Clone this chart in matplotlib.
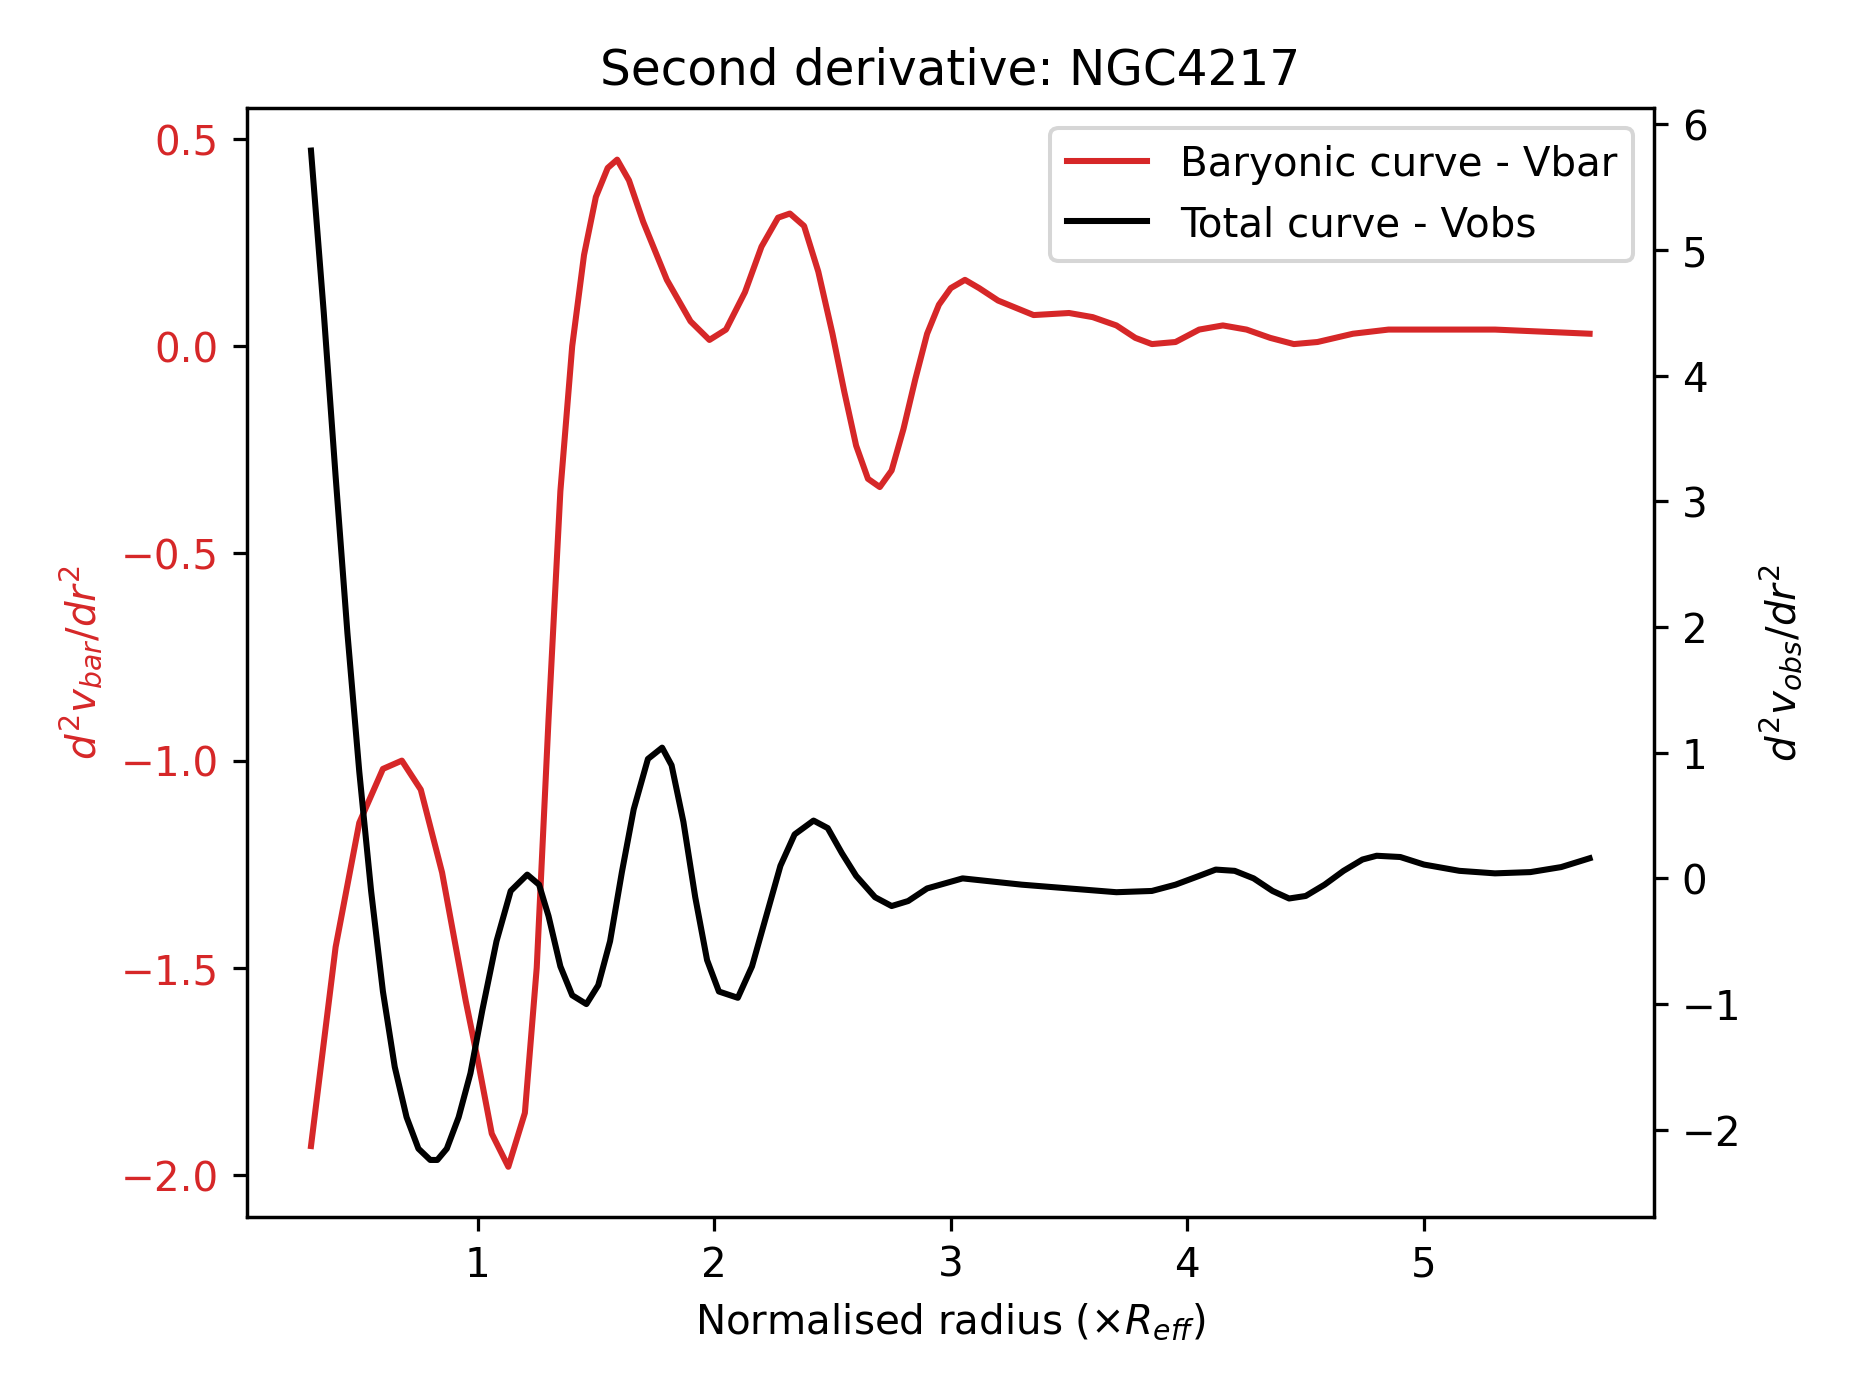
import numpy as np
import matplotlib.pyplot as plt

# values
r_bar = [0.296, 0.4, 0.5, 0.6, 0.68, 0.76, 0.85, 0.95, 1.0, 1.06, 1.13, 1.2, 1.25, 1.3, 1.35, 1.4, 1.45, 1.5, 1.55, 1.59,
         1.64, 1.7, 1.8, 1.9, 1.98, 2.05, 2.13, 2.2, 2.27, 2.32, 2.38, 2.44, 2.5, 2.55, 2.6, 2.65, 2.7, 2.75, 2.8, 2.85,
         2.9, 2.95, 3.0, 3.06, 3.12, 3.2, 3.35, 3.5, 3.6, 3.7, 3.78, 3.85, 3.95, 4.05, 4.15, 4.25, 4.35, 4.45, 4.55,
         4.7, 4.85, 5.0, 5.3, 5.7]
d2_bar = [-1.93, -1.45, -1.15, -1.02, -1.0, -1.07, -1.27, -1.58, -1.72, -1.9, -1.98, -1.85, -1.5, -0.9, -0.35, 0.0,
          0.22, 0.36, 0.43, 0.45, 0.4, 0.3, 0.16, 0.06, 0.015, 0.04, 0.13, 0.24, 0.31, 0.32, 0.29, 0.18, 0.03, -0.11,
          -0.24, -0.32, -0.34, -0.3, -0.2, -0.08, 0.03, 0.1, 0.14, 0.16, 0.14, 0.11, 0.075, 0.08, 0.07, 0.05, 0.02,
          0.005, 0.01, 0.04, 0.05, 0.04, 0.02, 0.005, 0.01, 0.03, 0.04, 0.04, 0.04, 0.03]

r_obs = [0.296, 0.35, 0.4, 0.45, 0.5, 0.55, 0.6, 0.65, 0.7, 0.75, 0.8, 0.83, 0.87, 0.92, 0.97, 1.02, 1.08, 1.14, 1.21,
         1.26, 1.3, 1.35, 1.4, 1.46, 1.51, 1.56, 1.61, 1.66, 1.72, 1.78, 1.82, 1.87, 1.92, 1.97, 2.02, 2.1, 2.16, 2.22,
         2.28, 2.34, 2.42, 2.48, 2.54, 2.6, 2.68, 2.75, 2.82, 2.9, 3.05, 3.3, 3.7, 3.85, 3.95, 4.05, 4.12, 4.2, 4.28,
         4.36, 4.43, 4.5, 4.58, 4.66, 4.74, 4.8, 4.9, 5.0, 5.15, 5.3, 5.45, 5.58, 5.7]
d2_obs = [5.79, 4.5, 3.2, 1.95, 0.85, -0.1, -0.9, -1.5, -1.9, -2.15, -2.24, -2.24, -2.15, -1.9, -1.55, -1.05, -0.5,
          -0.1, 0.03, -0.05, -0.3, -0.7, -0.93, -1.0, -0.85, -0.5, 0.05, 0.55, 0.95, 1.04, 0.9, 0.45, -0.15, -0.65,
          -0.9, -0.95, -0.7, -0.3, 0.1, 0.35, 0.46, 0.4, 0.2, 0.02, -0.15, -0.22, -0.18, -0.08, 0.0, -0.05, -0.11,
          -0.1, -0.05, 0.02, 0.07, 0.06, 0.0, -0.1, -0.16, -0.14, -0.05, 0.06, 0.15, 0.18, 0.17, 0.11, 0.06, 0.04,
          0.05, 0.09, 0.16]

fig, ax1 = plt.subplots(figsize=(6.4, 4.8))
ax1.plot(r_bar, d2_bar, color="tab:red", label="Baryonic curve - Vbar")
ax1.set_xlabel(r"Normalised radius ($\times R_{eff}$)")
ax1.set_ylabel(r"$d^2v_{bar}/dr^2$", color="tab:red")
ax1.tick_params(axis="y", labelcolor="tab:red")
ax1.set_ylim(-2.1, 0.575)

ax2 = ax1.twinx()
ax2.plot(r_obs, d2_obs, color="black", label="Total curve - Vobs")
ax2.set_ylabel(r"$d^2v_{obs}/dr^2$")
ax2.set_ylim(-2.69, 6.13)

h1, l1 = ax1.get_legend_handles_labels()
h2, l2 = ax2.get_legend_handles_labels()
ax2.legend(h1 + h2, l1 + l2, loc="upper right")
plt.title("Second derivative: NGC4217")

fig.tight_layout()
plt.savefig("out.png", dpi=291)
